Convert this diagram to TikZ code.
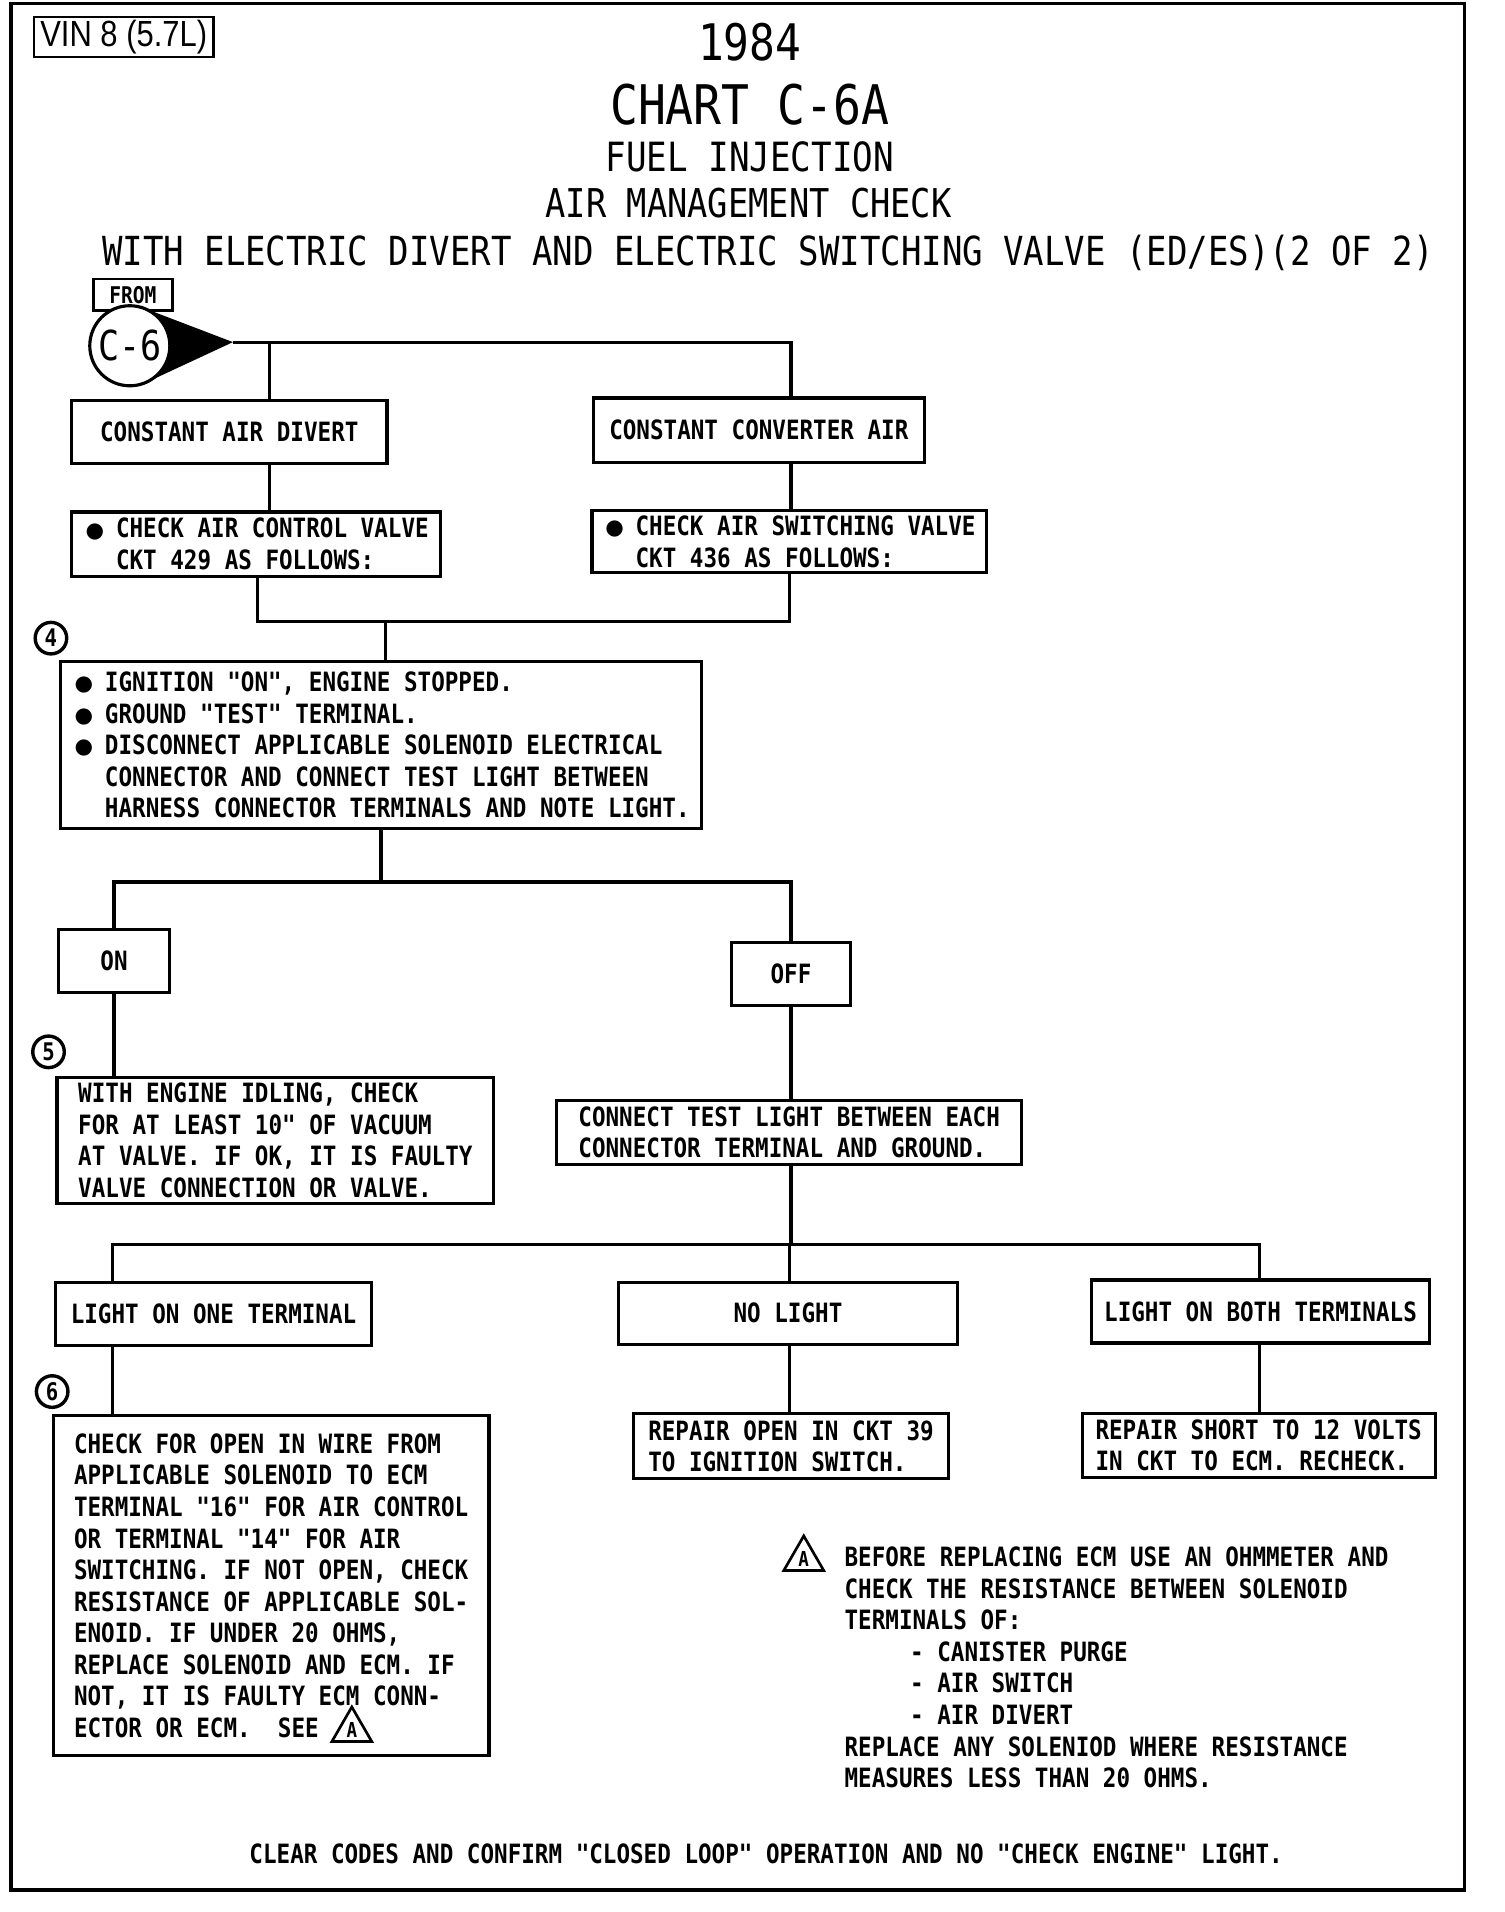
\documentclass[tikz,border=0pt]{standalone}
\usepackage{fontspec}
\usetikzlibrary{shapes.geometric}
\newfontfamily\plotfont[FakeStretch=0.85]{DejaVu Sans Mono}
\newfontfamily\vinfont[FakeStretch=0.85]{Liberation Sans}
\newfontfamily\symfont{DejaVu Sans}
\newcommand\boxfnt{\plotfont\bfseries\fontsize{21.9}{26}\selectfont}
\newcommand\bul{\makebox[27pt][l]{\hspace*{2pt}\symfont\fontsize{17.5}{17.5}\selectfont\raisebox{0.5pt}{●}}}
\newcommand\ind{\hspace*{27pt}}
\begin{document}
\begin{tikzpicture}[x=1pt,y=-1pt,
  bx/.style={draw,line width=2.6,inner sep=0pt,font=\boxfnt,align=left},
  ln/.style={line width=2.6,line join=miter},
  ttl/.style={inner sep=0pt,text depth=0pt},
  numc/.style={circle,draw,line width=2.8,minimum size=26,inner sep=0pt,font=\plotfont\bfseries\fontsize{20}{20}\selectfont},
  warn/.style={regular polygon,regular polygon sides=3,draw,line width=2.2,minimum size=38,inner sep=0pt,font=\plotfont\bfseries\fontsize{17}{17}\selectfont}]
\useasboundingbox (0,0) rectangle (1240,1576);
\draw[line width=3] (9,3) rectangle (1207,1558);

% header
\node[draw,line width=2,inner sep=0pt,minimum width=148,minimum height=33,
      font=\vinfont\fontsize{30}{30}\selectfont] (vin) at (102,30.5) {VIN 8 (5.7L)};
\node[ttl,text height=30.3,font=\plotfont\fontsize{41.5}{41.5}\selectfont] (yr) at (618,35) {1984};
\node[ttl,text height=32.8,font=\plotfont\fontsize{45}{45}\selectfont] (chart) at (618,86) {CHART C-6A};
\node[ttl,text height=24.2,font=\plotfont\fontsize{33.2}{33.2}\selectfont] (fuel) at (618,129) {FUEL INJECTION};
\node[ttl,text height=23.8,font=\plotfont\fontsize{32.7}{32.7}\selectfont] (amc) at (617,167) {AIR MANAGEMENT CHECK};
\node[ttl,text height=24,font=\plotfont\fontsize{33}{33}\selectfont] (with) at (633,207) {WITH ELECTRIC DIVERT AND ELECTRIC SWITCHING VALVE (ED/ES)(2 OF 2)};

% FROM C-6
\node[bx,line width=2.2,minimum width=65,minimum height=26,font=\plotfont\bfseries\fontsize{19}{19}\selectfont] (from) at (109.5,243) {FROM};
\coordinate (tip) at (192,282);
\fill (120,254.5) -- (tip) -- (120,315.5) -- cycle;
\node[circle,draw,line width=2.6,fill=white,minimum size=66,inner sep=0pt,
      font=\plotfont\fontsize{34}{34}\selectfont] (c6) at (107,285) {C-6};

% boxes
\node[bx,minimum width=260,minimum height=52] (cad) at (189,356) {CONSTANT AIR DIVERT};
\node[bx,minimum width=273,minimum height=53] (cca) at (625.5,354.5) {CONSTANT CONVERTER AIR};
\node[bx,minimum width=304,minimum height=53] (chkA) at (211,448.5) {\bul CHECK AIR CONTROL VALVE\\\ind CKT 429 AS FOLLOWS:};
\node[bx,minimum width=325,minimum height=51] (chkB) at (650.5,446.5) {\bul CHECK AIR SWITCHING VALVE\\\ind CKT 436 AS FOLLOWS:};
\node[numc] (n4) at (42,526) {4};
\node[bx,minimum width=528,minimum height=138] (box4) at (314,614) {\bul IGNITION "ON", ENGINE STOPPED.\\\bul GROUND "TEST" TERMINAL.\\\bul DISCONNECT APPLICABLE SOLENOID ELECTRICAL\\\ind CONNECTOR AND CONNECT TEST LIGHT BETWEEN\\\ind HARNESS CONNECTOR TERMINALS AND NOTE LIGHT.};
\node[bx,minimum width=92,minimum height=52] (nOn) at (94,792) {ON};
\node[bx,minimum width=98,minimum height=52] (nOff) at (652,803) {OFF};
\node[numc] (n5) at (40,867) {5};
\node[bx,minimum width=360,minimum height=104] (box5) at (227,940) {WITH ENGINE IDLING, CHECK\\FOR AT LEAST 10" OF VACUUM\\AT VALVE. IF OK, IT IS FAULTY\\VALVE CONNECTION OR VALVE.};
\node[bx,minimum width=383,minimum height=53] (conn) at (650.5,933.5) {CONNECT TEST LIGHT BETWEEN EACH\\CONNECTOR TERMINAL AND GROUND.};
\node[bx,minimum width=260,minimum height=52] (lone) at (176,1083) {LIGHT ON ONE TERMINAL};
\node[bx,minimum width=279,minimum height=51] (nol) at (649.5,1082.5) {NO LIGHT};
\node[bx,minimum width=278,minimum height=52] (lboth) at (1039,1081) {LIGHT ON BOTH TERMINALS};
\node[numc] (n6) at (43,1147) {6};
\node[bx,minimum width=359,minimum height=280] (box6) at (223.5,1307) {CHECK FOR OPEN IN WIRE FROM\\APPLICABLE SOLENOID TO ECM\\TERMINAL "16" FOR AIR CONTROL\\OR TERMINAL "14" FOR AIR\\SWITCHING. IF NOT OPEN, CHECK\\RESISTANCE OF APPLICABLE SOL-\\ENOID. IF UNDER 20 OHMS,\\REPLACE SOLENOID AND ECM. IF\\NOT, IT IS FAULTY ECM CONN-\\ECTOR OR ECM.\ \ SEE};
\node[warn] (wa1) at (290,1426) {A};
\node[bx,minimum width=260,minimum height=54] (rop) at (652,1192) {REPAIR OPEN IN CKT 39\\TO IGNITION SWITCH.};
\node[bx,minimum width=291,minimum height=53] (rsh) at (1037.5,1191.5) {REPAIR SHORT TO 12 VOLTS\\IN CKT TO ECM. RECHECK.};

% note
\node[warn] (wa2) at (662.5,1285) {A};
\node[font=\boxfnt,align=left,inner sep=0pt,anchor=north west] (note) at (696,1275) {BEFORE REPLACING ECM USE AN OHMMETER AND\\CHECK THE RESISTANCE BETWEEN SOLENOID\\TERMINALS OF:\\\hspace*{54pt}- CANISTER PURGE\\\hspace*{54pt}- AIR SWITCH\\\hspace*{54pt}- AIR DIVERT\\REPLACE ANY SOLENIOD WHERE RESISTANCE\\MEASURES LESS THAN 20 OHMS.};
\node[ttl,text height=16,font=\boxfnt] (clr) at (631.5,1528) {CLEAR CODES AND CONFIRM "CLOSED LOOP" OPERATION AND NO "CHECK ENGINE" LIGHT.};

% connectors
\coordinate (ja) at (222,282);
\coordinate (jb) at (652,282);
\draw[ln] (tip) -- (jb) -- (jb |- cca.north);
\draw[ln] (ja) -- (ja |- cad.north);
\draw[ln] (ja |- cad.south) -- (ja |- chkA.north);
\draw[ln] (jb |- cca.south) -- (jb |- chkB.north);
\coordinate (jc) at (212,512);
\coordinate (jd) at (651,512);
\coordinate (je) at (318,512);
\draw[ln] (jc |- chkA.south) -- (jc) -- (jd) -- (jd |- chkB.south);
\draw[ln] (je) -- (je |- box4.north);
\coordinate (jf) at (314,727);
\coordinate (jg) at (94,727);
\coordinate (jh) at (652,727);
\draw[ln] (jf |- box4.south) -- (jf);
\draw[ln] (jg |- nOn.north) -- (jg) -- (jh) -- (jh |- nOff.north);
\draw[ln] (jg |- nOn.south) -- (jg |- box5.north);
\draw[ln] (jh |- nOff.south) -- (jh |- conn.north);
\coordinate (ji) at (652,1026);
\coordinate (jj) at (93,1026);
\coordinate (jk) at (1038,1026);
\coordinate (jl) at (651,1026);
\draw[ln] (ji |- conn.south) -- (ji);
\draw[ln] (jj |- lone.north) -- (jj) -- (jk) -- (jk |- lboth.north);
\draw[ln] (jl) -- (jl |- nol.north);
\draw[ln] (jj |- lone.south) -- (jj |- box6.north);
\draw[ln] (jl |- nol.south) -- (jl |- rop.north);
\draw[ln] (jk |- lboth.south) -- (jk |- rsh.north);
\end{tikzpicture}
\end{document}
